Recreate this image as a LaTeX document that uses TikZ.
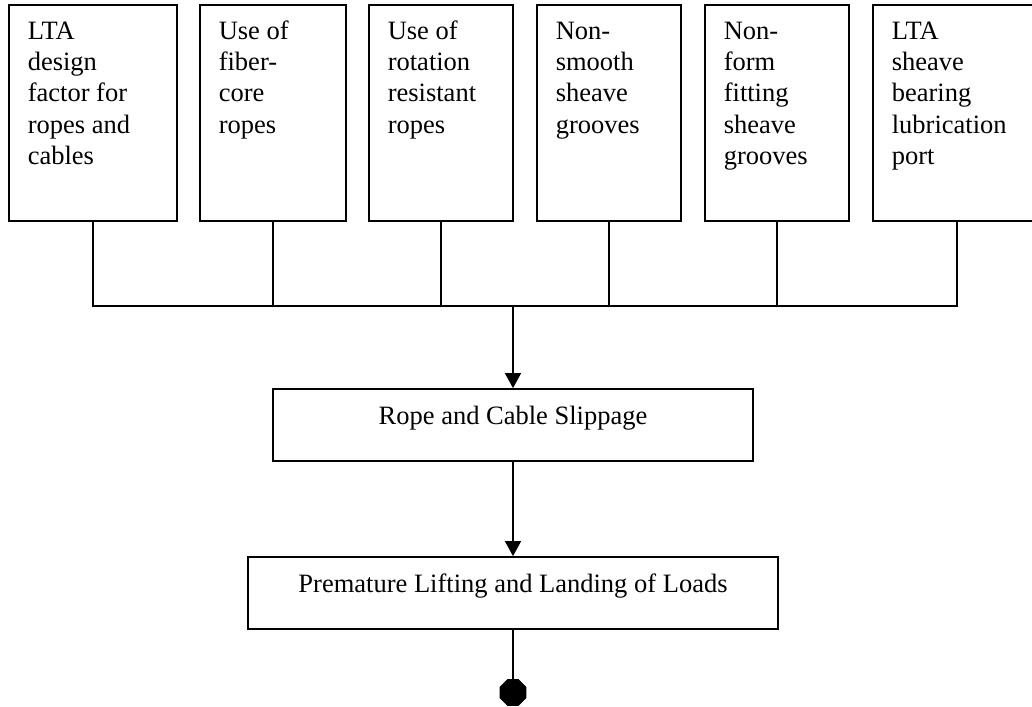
\documentclass[tikz,border=0pt]{standalone}
\usepackage{fontspec}
\setmainfont{Liberation Serif}
\usetikzlibrary{arrows.meta,shapes.geometric}
\begin{document}
\begin{tikzpicture}[x=1pt,y=-1pt,
  box/.style={draw, line width=1.8pt, rectangle, inner sep=0pt},
  topbox/.style={box, minimum height=216pt},
  lbl/.style={anchor=north west, inner sep=0pt, align=left, font=\fontsize{26.5}{31.3}\selectfont},
  midbox/.style={box, minimum height=72pt, font=\fontsize{26.5}{31.3}\selectfont, text height=18pt, text depth=19pt},
  conn/.style={line width=1.7pt},
  arr/.style={conn, -{Triangle[width=16pt,length=15pt]}},
  stop/.style={regular polygon, regular polygon sides=8, fill=black, draw=none, minimum size=29pt, inner sep=0pt}
]
\useasboundingbox (0,0) rectangle (1032,706);
\clip (0,0) rectangle (1032,706);
\fill[white] (0,0) rectangle (1032,706);

% top boxes
\node[topbox, minimum width=168pt] (b1) at (93,113) {};
\node[topbox, minimum width=146pt] (b2) at (273,113) {};
\node[topbox, minimum width=144pt] (b3) at (441,113) {};
\node[topbox, minimum width=144pt] (b4) at (609,113) {};
\node[topbox, minimum width=144pt] (b5) at (777,113) {};
\node[topbox, minimum width=168pt] (b6) at (957,113) {};

\node[lbl] (t1) at ([xshift=19.5pt,yshift=-13.1pt]b1.north west) {\strut LTA\\design\\factor for\\ropes and\\cables};
\node[lbl] (t2) at ([xshift=19.5pt,yshift=-13.1pt]b2.north west) {\strut Use of\\fiber-\\core\\ropes};
\node[lbl] (t3) at ([xshift=19.5pt,yshift=-13.1pt]b3.north west) {\strut Use of\\rotation\\resistant\\ropes};
\node[lbl] (t4) at ([xshift=19.5pt,yshift=-13.1pt]b4.north west) {\strut Non-\\smooth\\sheave\\grooves};
\node[lbl] (t5) at ([xshift=19.5pt,yshift=-13.1pt]b5.north west) {\strut Non-\\form\\fitting\\sheave\\grooves};
\node[lbl] (t6) at ([xshift=19.5pt,yshift=-13.1pt]b6.north west) {\strut LTA\\sheave\\bearing\\lubrication\\port};

% middle boxes
\node[midbox, minimum width=480pt] (rope) at (513,425) {Rope and Cable Slippage};
\node[midbox, minimum width=530pt] (prem) at (513,593) {Premature Lifting and Landing of Loads};
\node[stop] (end) at (513,692.5) {};

% bus
\coordinate (bus) at (513,306);
\draw[conn] (b1.south) |- (bus) -| (b6.south);
\foreach \b in {b2,b3,b4,b5} \draw[conn] (\b.south) -- (\b.south |- bus);
\draw[arr] (bus) -- (rope.north);
\draw[arr] (rope.south) -- (prem.north);
\draw[line width=1.4pt] (prem.south) -- (end.north);
\end{tikzpicture}
\end{document}
